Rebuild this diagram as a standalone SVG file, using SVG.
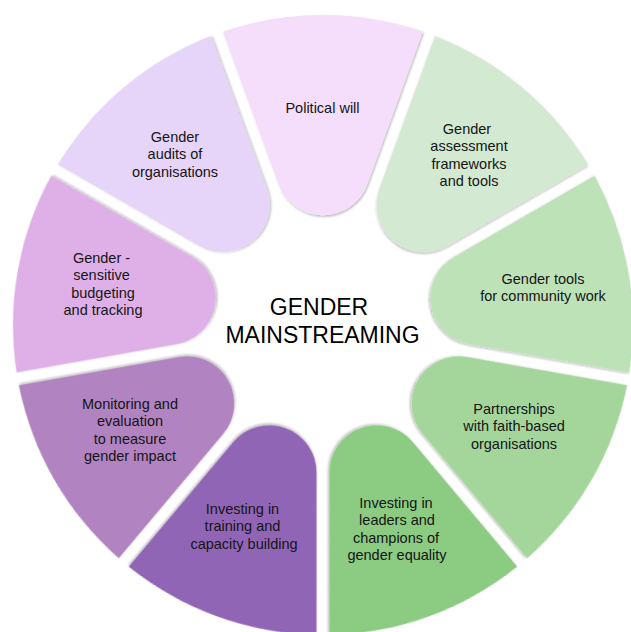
<svg xmlns="http://www.w3.org/2000/svg" xmlns:xlink="http://www.w3.org/1999/xlink" width="631" height="632" viewBox="0 0 631 632">
<style>
.lbl{font-family:"Liberation Sans",Arial,sans-serif;font-size:14.5px;fill:#151515;text-anchor:middle}
.title{font-family:"Liberation Sans",Arial,sans-serif;font-size:23px;fill:#000;text-anchor:middle}
</style>
<defs>
<filter id="sh" x="-10%" y="-10%" width="130%" height="130%">
<feDropShadow dx="1" dy="1.5" stdDeviation="1.2" flood-color="#000" flood-opacity="0.28"/>
</filter>
<path id="seg" d="M -99.89,-293.46 A 310 310 0 0 1 99.89,-293.46 L 44.35,-140.86 A 47.2 47.2 0 0 1 -44.35,-140.86 Z"/>
</defs>
<rect width="631" height="632" fill="#fff"/>
<g id="political-will">
<use xlink:href="#seg" transform="translate(323,325) rotate(0)" fill="#F5DEFB" filter="url(#sh)"/>
<text class="lbl" x="322.5" y="113">Political will</text>
</g>
<g id="gender-assessment">
<use xlink:href="#seg" transform="translate(323,325) rotate(40)" fill="#D3E9D1" filter="url(#sh)"/>
<text class="lbl" y="134"><tspan x="467">Gender</tspan><tspan x="469" dy="17.4">assessment</tspan><tspan x="469" dy="17.4">frameworks</tspan><tspan x="469" dy="17.4">and tools</tspan></text>
</g>
<g id="gender-tools">
<use xlink:href="#seg" transform="translate(323,325) rotate(80)" fill="#BDE2B7" filter="url(#sh)"/>
<text class="lbl" y="284"><tspan x="543">Gender tools</tspan><tspan x="543" dy="17.4">for community work</tspan></text>
</g>
<g id="partnerships">
<use xlink:href="#seg" transform="translate(323,325) rotate(120)" fill="#A4D69C" filter="url(#sh)"/>
<text class="lbl" y="414"><tspan x="514">Partnerships</tspan><tspan x="514" dy="17.4">with faith-based</tspan><tspan x="514" dy="17.4">organisations</tspan></text>
</g>
<g id="investing-leaders">
<use xlink:href="#seg" transform="translate(323,325) rotate(160)" fill="#8CCB82" filter="url(#sh)"/>
<text class="lbl" y="508"><tspan x="396">Investing in</tspan><tspan x="397" dy="17.4">leaders and</tspan><tspan x="396" dy="17.4">champions of</tspan><tspan x="397" dy="17.4">gender equality</tspan></text>
</g>
<g id="investing-training">
<use xlink:href="#seg" transform="translate(323,325) rotate(200)" fill="#9165B5" filter="url(#sh)"/>
<text class="lbl" y="514"><tspan x="242.5">Investing in</tspan><tspan x="242.5" dy="17.4">training and</tspan><tspan x="244" dy="17.4">capacity building</tspan></text>
</g>
<g id="monitoring">
<use xlink:href="#seg" transform="translate(323,325) rotate(240)" fill="#B183C1" filter="url(#sh)"/>
<text class="lbl" y="409"><tspan x="130">Monitoring and</tspan><tspan x="130" dy="17.4">evaluation</tspan><tspan x="130" dy="17.4">to measure</tspan><tspan x="130" dy="17.4">gender impact</tspan></text>
</g>
<g id="budgeting">
<use xlink:href="#seg" transform="translate(323,325) rotate(280)" fill="#DFB0E8" filter="url(#sh)"/>
<text class="lbl" y="263"><tspan x="101.5">Gender -</tspan><tspan x="101.5" dy="17.4">sensitive</tspan><tspan x="103" dy="17.4">budgeting</tspan><tspan x="103" dy="17.4">and tracking</tspan></text>
</g>
<g id="gender-audits">
<use xlink:href="#seg" transform="translate(323,325) rotate(320)" fill="#E6D4F9" filter="url(#sh)"/>
<text class="lbl" y="142"><tspan x="175">Gender</tspan><tspan x="175" dy="17.4">audits of</tspan><tspan x="175" dy="17.4">organisations</tspan></text>
</g>
<g id="center">
<text class="title" x="319" y="315">GENDER</text>
<text class="title" x="322.5" y="343">MAINSTREAMING</text>
</g>
<g id="connectors"/>
</svg>
